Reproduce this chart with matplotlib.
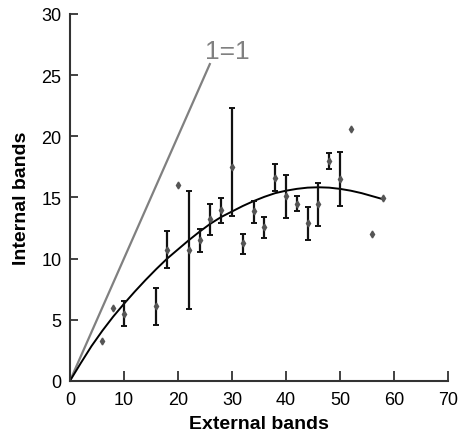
import matplotlib.pyplot as plt
import numpy as np

plt.rcParams['font.family'] = ['Liberation Sans', 'DejaVu Sans']

# points with error bars
ext_err = [10, 16, 18, 22, 24, 26, 28, 30, 32, 34, 36, 38, 40, 42, 44, 46, 48, 50]
int_err = [5.5, 6.1, 10.7, 10.7, 11.5, 13.2, 13.95, 17.5, 11.3, 13.9, 12.55, 16.6, 15.1, 14.5, 12.9, 14.5, 18.0, 16.5]
err_lo = [1.0, 1.5, 1.5, 4.8, 1.0, 1.3, 1.0, 4.0, 0.9, 1.0, 0.85, 1.1, 1.8, 0.6, 1.4, 1.8, 0.7, 2.2]
err_hi = [1.05, 1.5, 1.55, 4.8, 0.95, 1.3, 1.0, 4.8, 0.7, 0.8, 0.85, 1.1, 1.7, 0.65, 1.3, 1.7, 0.6, 2.2]

# points without error bars
ext_pt = [6, 8, 20, 52, 56, 58]
int_pt = [3.25, 5.95, 16.0, 20.6, 12.0, 14.95]

# fitted curve
curve_x = [0, 2, 4, 6, 8, 10, 12, 14, 16, 18, 20, 22, 24, 26, 28, 30, 32, 34, 36, 38,
           40, 42, 44, 46, 48, 50, 52, 54, 56, 58]
curve_y = [0, 1.45, 2.85, 4.1, 5.25, 6.3, 7.3, 8.25, 9.15, 10.0, 10.75, 11.5, 12.2, 12.85,
           13.4, 13.85, 14.3, 14.7, 15.05, 15.35, 15.55, 15.7, 15.8, 15.83, 15.8, 15.7,
           15.55, 15.35, 15.1, 14.85]

# 1=1 line
ident = [0, 25.9]

fig = plt.figure(figsize=(4.6, 4.39), dpi=100)
ax = fig.add_axes([0.152, 0.130, 0.822, 0.836])

ax.plot(ident, ident, color="#808080", lw=1.6, zorder=1)
ax.text(25.0, 26.4, "1=1", color="#808080", fontsize=19, ha="left", va="baseline")

ax.plot(curve_x, curve_y, color="black", lw=1.4, zorder=2)

ax.errorbar(ext_err, int_err, yerr=[err_lo, err_hi], fmt="d", color="#555555",
            ms=3.5, ecolor="#111111", elinewidth=1.6, capsize=2.5, capthick=1.4, zorder=3)
ax.plot(ext_pt, int_pt, "d", color="#555555", ms=3.5, zorder=3)

ax.set_xlim(0, 70)
ax.set_ylim(0, 30)
ax.set_xticks(range(0, 71, 10))
ax.set_yticks(range(0, 31, 5))
ax.spines[["top", "right"]].set_visible(False)
for s in ["left", "bottom"]:
    ax.spines[s].set_linewidth(1.5)
    ax.spines[s].set_color("#333333")
ax.tick_params(direction="in", width=1.3, color="#333333", labelsize=13, pad=6)
ax.tick_params(axis="x", length=7, pad=7)
ax.tick_params(axis="y", length=6)

ax.set_xlabel("External bands", fontsize=14, fontweight="bold", labelpad=5)
ax.set_ylabel("Internal bands", fontsize=14, fontweight="bold", labelpad=8)

plt.savefig("out.png")
